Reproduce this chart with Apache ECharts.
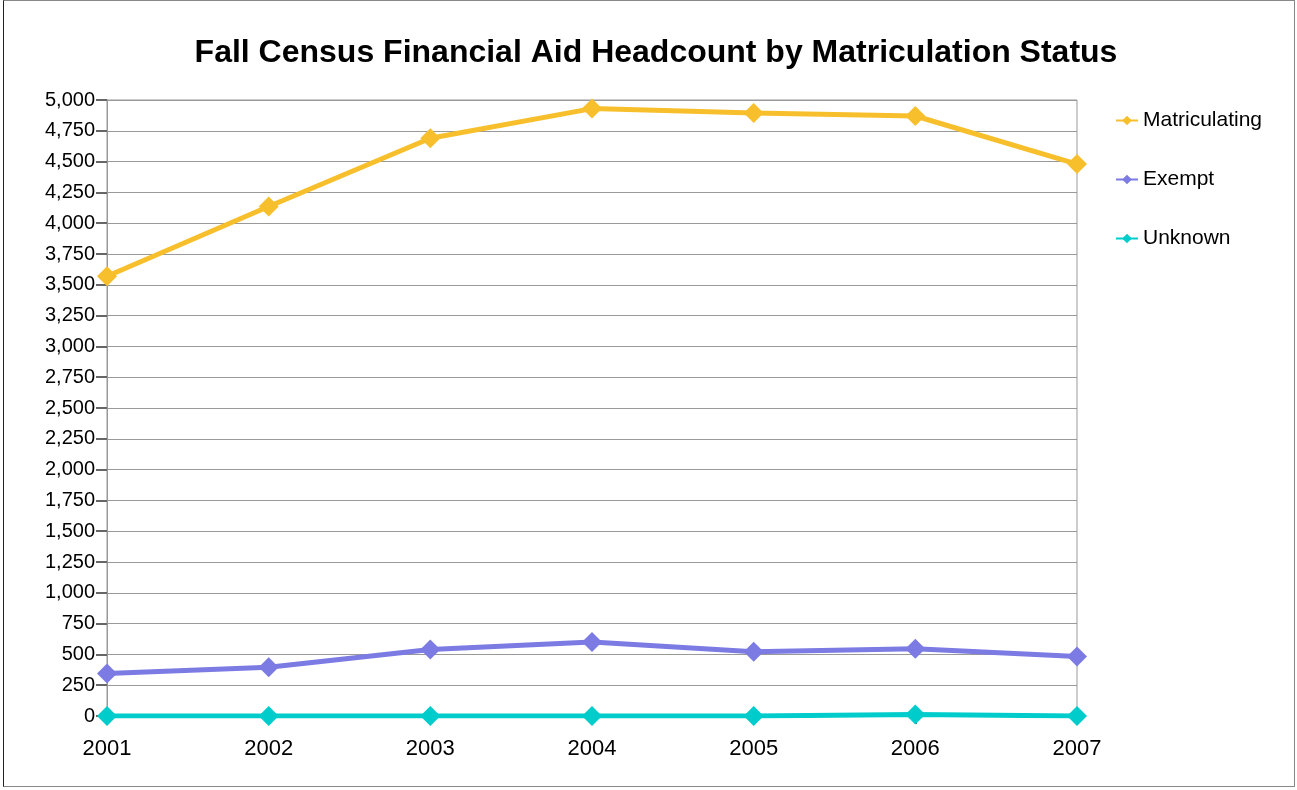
<!DOCTYPE html>
<html>
<head>
<meta charset="utf-8">
<script src="https://cdn.jsdelivr.net/npm/echarts@6/dist/echarts.min.js"></script>
<style>
html,body{margin:0;padding:0;background:#fff;}
#frame{position:absolute;left:3px;top:0px;width:1292px;height:787px;border:1px solid #222;border-top-color:#888;border-right-color:#888;border-bottom-color:#888;box-sizing:border-box;pointer-events:none;z-index:2;}
#chart{position:absolute;left:0;top:0;width:1297px;height:790px;}
</style>
</head>
<body>
<div id="chart"></div>
<div id="frame"></div>
<script>
const categories = ['2001','2002','2003','2004','2005','2006','2007'];
const matriculating = [3570, 4135, 4690, 4930, 4895, 4870, 4480];
const exempt = [345, 395, 540, 600, 522, 545, 482];
const unknown = [0, 0, 0, 0, 0, 12, 0];
const yTicks = {min: 0, max: 5000, interval: 250};

const chart = echarts.init(document.getElementById('chart'));
const mk = (name, data, color) => ({
  name, type: 'line', data,
  symbol: 'diamond', symbolSize: 20,
  lineStyle: {width: 5, color},
  itemStyle: {color},
  emphasis: {disabled: true}
});
chart.setOption({
  animation: false,
  backgroundColor: '#fff',
  title: {
    text: 'Fall Census Financial Aid Headcount by Matriculation Status',
    left: 651, textAlign: 'center', top: 32,
    textStyle: {fontFamily: 'Liberation Sans', fontSize: 32, fontWeight: 'bold', color: '#000'}
  },
  legend: {
    orient: 'vertical', left: 1110, top: 105,
    itemWidth: 22, itemHeight: 12, itemGap: 38,
    textStyle: {fontFamily: 'Liberation Sans', fontSize: 21, color: '#000'},
    data: ['Matriculating','Exempt','Unknown']
  },
  grid: {left: 107, right: 220, top: 100, bottom: 74, containLabel: false, show: true, borderColor: '#999', borderWidth: 1},
  xAxis: {
    type: 'category', data: categories, boundaryGap: false,
    axisLine: {show: true, lineStyle: {color: '#999'}},
    axisTick: {show: true, alignWithLabel: true, length: 8, lineStyle: {color: '#555', width: 2}},
    axisLabel: {fontFamily: 'Liberation Sans', fontSize: 22, color: '#000', margin: 22},
    splitLine: {show: false}
  },
  yAxis: {
    type: 'value', min: yTicks.min, max: yTicks.max, interval: yTicks.interval,
    axisLine: {show: true, lineStyle: {color: '#999'}},
    axisTick: {show: true, length: 11, lineStyle: {color: '#666', width: 2}},
    axisLabel: {fontFamily: 'Liberation Sans', fontSize: 20, color: '#000', margin: 12,
      formatter: v => v.toLocaleString('en-US')},
    splitLine: {show: true, lineStyle: {color: '#999', width: 1}}
  },
  series: [
    mk('Matriculating', matriculating, '#F8BF2C'),
    mk('Exempt', exempt, '#7B7BE3'),
    mk('Unknown', unknown, '#00CCCC')
  ]
});
</script>
</body>
</html>
